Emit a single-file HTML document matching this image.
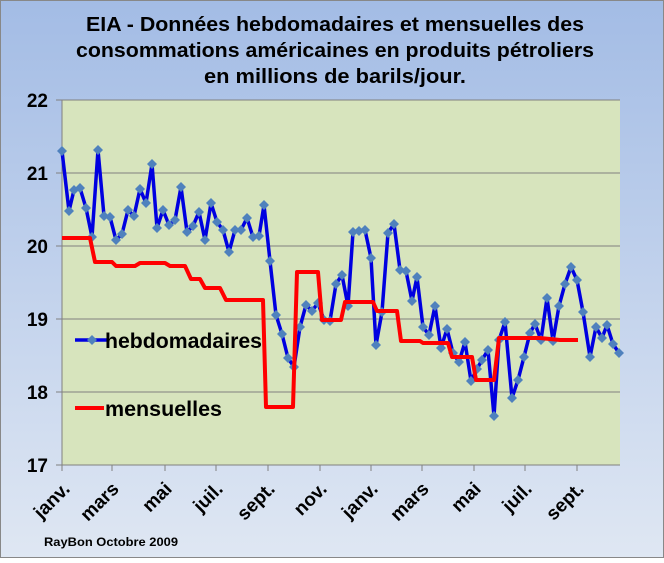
<!DOCTYPE html>
<html><head><meta charset="utf-8"><style>
html,body{margin:0;padding:0;}
body{width:664px;height:558px;overflow:hidden;}
text{font-family:"Liberation Sans",sans-serif;font-weight:bold;}
</style></head><body>
<svg width="664" height="558" viewBox="0 0 664 558" xmlns="http://www.w3.org/2000/svg">
<defs>
<linearGradient id="bg" x1="0" y1="0" x2="0" y2="1">
<stop offset="0" stop-color="#a3bce5"/>
<stop offset="1" stop-color="#dfe7f3"/>
</linearGradient>
<symbol id="d" viewBox="-5 -5 10 10"><path d="M0,-5 5,0 0,5 -5,0Z" fill="#4f81bd"/></symbol>
</defs>
<rect x="0.5" y="0.5" width="663" height="557" fill="url(#bg)" stroke="#888"/>
<text x="335" y="31" font-size="20" text-anchor="middle" textLength="498" lengthAdjust="spacingAndGlyphs">EIA - Données hebdomadaires et mensuelles des</text>
<text x="335" y="57" font-size="20" text-anchor="middle" textLength="518" lengthAdjust="spacingAndGlyphs">consommations américaines en produits pétroliers</text>
<text x="335" y="83" font-size="20" text-anchor="middle" textLength="262" lengthAdjust="spacingAndGlyphs">en millions de barils/jour.</text>
<rect x="62" y="100" width="558" height="365" fill="#d7e4bd"/>
<g stroke="#808080" stroke-width="1">
<line x1="56" y1="100" x2="620" y2="100"/><line x1="56" y1="173" x2="620" y2="173"/><line x1="56" y1="246" x2="620" y2="246"/>
<line x1="56" y1="319" x2="620" y2="319"/><line x1="56" y1="392" x2="620" y2="392"/><line x1="56" y1="465" x2="620" y2="465"/>
<line x1="62" y1="100" x2="62" y2="465"/>
<path d="M62,465v6M112,465v6M165,465v6M216,465v6M268,465v6M320,465v6M371,465v6M422,465v6M474,465v6M525,465v6M577,465v6"/>
</g>
<g font-size="19" text-anchor="end">
<text x="48" y="107">22</text><text x="48" y="180">21</text><text x="48" y="253">20</text>
<text x="48" y="326">19</text><text x="48" y="399">18</text><text x="48" y="472">17</text>
</g>
<g font-size="19" text-anchor="end">
<text transform="translate(71,490) rotate(-45)">janv.</text>
<text transform="translate(120,490) rotate(-45)">mars</text>
<text transform="translate(173,490) rotate(-45)">mai</text>
<text transform="translate(224,490) rotate(-45)">juil.</text>
<text transform="translate(276,490) rotate(-45)">sept.</text>
<text transform="translate(328,490) rotate(-45)">nov.</text>
<text transform="translate(379,490) rotate(-45)">janv.</text>
<text transform="translate(430,490) rotate(-45)">mars</text>
<text transform="translate(482,490) rotate(-45)">mai</text>
<text transform="translate(533,490) rotate(-45)">juil.</text>
<text transform="translate(585,490) rotate(-45)">sept.</text>
</g>
<text x="44" y="546" font-size="12" textLength="134" lengthAdjust="spacingAndGlyphs">RayBon Octobre 2009</text>
<polyline id="b" fill="none" stroke="#0000e0" stroke-width="3.5" stroke-linejoin="round" points="62,151 69,211 74,190 80,188 86,208 92,237 98,150 104,216 110,217 116,240 122,234 128,210 134,216 140,189 146,203 152,164 157,228 163,210 169,225 175,220 181,187 187,232 193,226 199,212 205,240 211,203 217,222 223,230 229,252 235,230 241,230 247,218 253,237 259,236 264,205 270,261 276,315 282,334 288,358 294,367 300,327 306,305 312,311 318,303 324,320 330,321 336,284 342,275 348,306 353,232 359,231 365,230 371,258 376,345 382,312 388,233 394,224 400,270 406,271 412,301 417,277 423,327 429,335 435,306 441,348 447,329 453,353 459,362 465,342 471,381 477,369 482,360 488,350 494,416 499,340 505,322 512,398 518,380 524,357 530,333 535,324 541,340 547,298 553,341 559,306 565,284 571,267 577,280 583,312 590,357 596,327 602,338 607,325 613,344 619,353"/>
<g id="marks"></g>
<polyline fill="none" stroke="#ff0000" stroke-width="4" stroke-linejoin="round" points="62,238 90,238 95,262 112,262 116,266 135,266 140,263 165,263 170,266 185,266 191,279 200,279 205,288 220,288 226,300 240,300 246,300 263,300 266,407 293,407 297,272 318,272 322,320 341,320 345,302 373,302 377,311 397,311 401,341 420,341 423,343 448,343 452,357 472,357 476,380 494,380 499,338 540,338 560,340 578,340"/>
<line x1="75" y1="340" x2="109" y2="340" stroke="#0000e0" stroke-width="3.5"/>
<use href="#d" x="87" y="335" width="10" height="10"/>
<text x="105" y="348" font-size="21" textLength="157" lengthAdjust="spacingAndGlyphs">hebdomadaires</text>
<line x1="75" y1="408" x2="104" y2="408" stroke="#ff0000" stroke-width="4"/>
<text x="105" y="416" font-size="21" textLength="117" lengthAdjust="spacingAndGlyphs">mensuelles</text>
</svg>
<script>
var p=document.getElementById('b').getAttribute('points').trim().split(/\s+/);
var g=document.getElementById('marks');
p.forEach(function(s){var a=s.split(',');var u=document.createElementNS('http://www.w3.org/2000/svg','use');
u.setAttribute('href','#d');u.setAttribute('x',a[0]-5);u.setAttribute('y',a[1]-5);u.setAttribute('width',10);u.setAttribute('height',10);g.appendChild(u);});
</script>
</body></html>
